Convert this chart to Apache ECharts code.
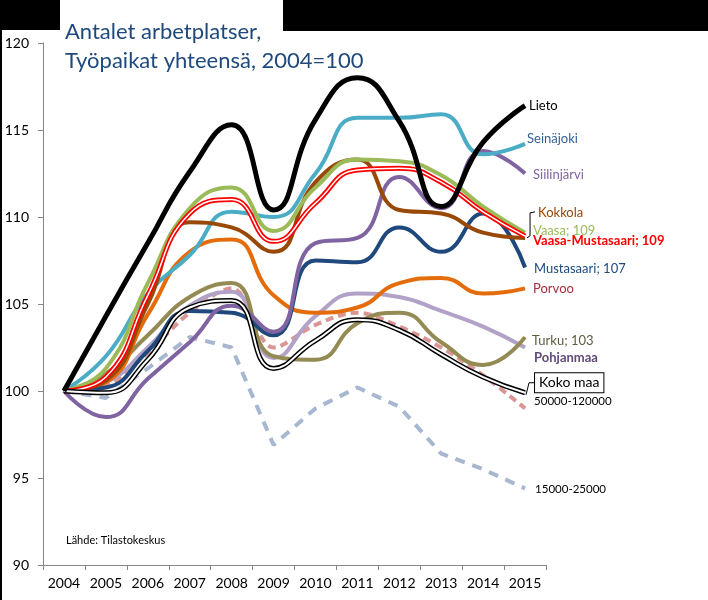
<!DOCTYPE html>
<html>
<head>
<meta charset="utf-8">
<script src="https://cdn.jsdelivr.net/npm/echarts@6/dist/echarts.min.js"></script>
<style>
html,body{margin:0;padding:0;background:#fff;}
#c{width:708px;height:600px;}
</style>
</head>
<body>
<div id="c"></div>
<script>
var years = ['2004','2005','2006','2007','2008','2009','2010','2011','2012','2013','2014','2015'];
var yTicks = [90, 95, 100, 105, 110, 115, 120];

var lieto       = [100, 104.3, 108.5, 112.6, 115.3, 110.4, 115.6, 118.0, 115.5, 110.6, 114.3, 116.4];
var seinajoki   = [100, 102.0, 105.6, 107.8, 110.3, 110.0, 112.5, 115.7, 115.7, 115.9, 113.6, 114.2];
var siilinjarvi = [100, 98.5, 100.7, 102.8, 104.9, 103.4, 108.5, 108.8, 112.3, 110.5, 113.8, 112.5];
var kokkola     = [100, 100.6, 105.0, 109.7, 109.4, 108.0, 112.0, 113.3, 110.4, 110.2, 109.1, 108.8];
var vaasa       = [100, 101.3, 106.2, 110.5, 111.7, 109.2, 111.7, 113.3, 113.2, 112.4, 110.6, 109.1];
var vaasaMust   = [100, 100.8, 105.5, 110.2, 111.0, 108.6, 110.8, 112.7, 112.8, 112.0, 110.3, 108.9];
var mustasaari  = [100, 100.2, 102.3, 104.6, 104.5, 103.2, 107.5, 107.4, 109.4, 108.0, 110.2, 107.1];
var porvoo      = [100, 100.5, 104.4, 108.0, 108.7, 105.5, 104.5, 104.8, 106.2, 106.5, 105.6, 105.9];
var turku       = [100, 101.0, 103.2, 105.4, 106.2, 102.0, 101.8, 103.9, 104.5, 102.8, 101.5, 103.1];
var pohjanmaa   = [100, 100.5, 102.5, 104.9, 105.7, 101.9, 104.3, 105.6, 105.4, 104.6, 103.7, 102.5];
var kokoMaa     = [100, 99.9, 101.8, 104.8, 105.2, 101.3, 102.9, 104.1, 103.5, 102.1, 100.8, 99.9];
var k50_120     = [100, 100.3, 102.2, 104.5, 105.9, 102.5, 103.8, 104.5, 103.7, 102.5, 100.9, 99.0];
var k15_25      = [100, 99.6, 101.3, 103.1, 102.5, 96.9, 99.0, 100.2, 99.1, 96.4, 95.5, 94.4];

var FONT = 'Lato';

function ln(name, data, color, width, label, extra) {
  var s = {
    name: name, type: 'line', data: data, smooth: 0.5, symbol: 'none',
    lineStyle: { color: color, width: width },
    emphasis: { disabled: true },
    z: 2
  };
  if (label) {
    s.endLabel = Object.assign({
      show: true, formatter: label.text, distance: 0,
      fontFamily: FONT, fontSize: 13, color: label.color || color,
      align: 'left', verticalAlign: 'middle'
    }, label.opts || {});
  }
  if (extra) Object.assign(s, extra);
  return s;
}

var series = [
  ln('15000-25000', k15_25, '#A7B7D0', 4, {text: '15000-25000', color: '#000', opts: {offset: [10, 1], fontSize: 11.5}}, {smooth: false, lineStyle: {color: '#A7B7D0', width: 4, type: [10, 8]}}),
  ln('50000-120000', k50_120, '#D99694', 4, {text: '50000-120000', color: '#000', opts: {offset: [9, -7], fontSize: 11.5}}, {smooth: 0.35, lineStyle: {color: '#D99694', width: 4, type: [8, 5]}}),
  ln('Pohjanmaa', pohjanmaa, '#B3A2C7', 4, {text: 'Pohjanmaa', color: '#604A7B', opts: {offset: [9, 10], fontWeight: 'bold'}}),
  ln('Turku', turku, '#948A54', 4, {text: 'Turku; 103', color: '#5E5A40', opts: {offset: [7, 4]}}),
  ln('Porvoo', porvoo, '#E46C0A', 4, {text: 'Porvoo', color: '#A5303E', opts: {offset: [8, 0]}}),
  ln('Mustasaari', mustasaari, '#1F497D', 4, {text: 'Mustasaari; 107', color: '#1F497D', opts: {offset: [9, 1]}}),
  ln('Siilinjärvi', siilinjarvi, '#8064A2', 4, {text: 'Siilinjärvi', color: '#8064A2', opts: {offset: [8, 1]}}),
  ln('Seinäjoki', seinajoki, '#4BACC6', 4, {text: 'Seinäjoki', color: '#31639A', opts: {offset: [2, -5]}}),
  ln('Kokkola', kokkola, '#984807', 4, {text: 'Kokkola', color: '#984807', opts: {offset: [13, -25]}}),
  ln('Vaasa', vaasa, '#9BBB59', 4, {text: 'Vaasa; 109', color: '#9BBB59', opts: {offset: [8, -2]}}),
  ln('Vaasa-Mustasaari', vaasaMust, '#FF0000', 5, {text: 'Vaasa-Mustasaari; 109', color: '#FF0000', opts: {offset: [8, 5], fontWeight: 'bold'}}),
  ln('Vaasa-Mustasaari-inner', vaasaMust, '#FFFFFF', 1.5, null),
  ln('Koko maa', kokoMaa, '#000000', 5, {text: 'Koko maa', color: '#000', opts: {offset: [10, -10], fontSize: 14, backgroundColor: '#fff', borderColor: '#000', borderWidth: 1, padding: [3, 4, 2, 4]}}),
  ln('Koko maa-inner', kokoMaa, '#FFFFFF', 2, null),
  ln('Lieto', lieto, '#000000', 5, {text: 'Lieto', color: '#000', opts: {offset: [4, 0]}})
];

var chart = echarts.init(document.getElementById('c'), null, {renderer: 'canvas'});
var option = {
  animation: false,
  backgroundColor: '#ffffff',
  grid: { left: 43, right: 162, top: 43, bottom: 35, containLabel: false },
  xAxis: {
    type: 'category', data: years, boundaryGap: true,
    axisLine: { lineStyle: { color: '#868686', width: 1 } },
    axisTick: { show: true, length: 5, lineStyle: { color: '#868686' } },
    axisLabel: { color: '#000', fontFamily: FONT, fontSize: 14, margin: 11, interval: 0 },
    splitLine: { show: false }
  },
  yAxis: {
    type: 'value', min: yTicks[0], max: yTicks[yTicks.length - 1], interval: 5,
    axisLine: { show: true, lineStyle: { color: '#868686', width: 1 } },
    axisTick: { show: true, length: 5, lineStyle: { color: '#868686' } },
    axisLabel: { color: '#000', fontFamily: FONT, fontSize: 14, margin: 14 },
    splitLine: { show: false }
  },
  title: {
    text: 'Antalet arbetplatser,\nTyöpaikat yhteensä, 2004=100',
    left: 60, top: 12,
    textStyle: { color: '#1F497D', fontFamily: FONT, fontSize: 22, fontWeight: 'normal', lineHeight: 29 }
  },
  series: series
};
chart.setOption(option);

// decorative frame and leader lines, positioned from the axes' own conversion
var last = years.length - 1;
function px(arr) { return chart.convertToPixel({xAxisIndex: 0, yAxisIndex: 0}, [last, arr[last]]); }
var pk = px(kokkola), pm = px(kokoMaa);
var g = [
  { type: 'rect', shape: {x: 0, y: 0, width: 60, height: 30}, style: {fill: '#000'}, z: 0 },
  { type: 'rect', shape: {x: 283, y: 0, width: 425, height: 31}, style: {fill: '#000'}, z: 0 },
  { type: 'rect', shape: {x: 0, y: 0, width: 2, height: 600}, style: {fill: '#000'}, z: 0 },
  { type: 'polyline', shape: {points: [[pk[0] + 2, pk[1]], [pk[0] + 5, pk[1] - 2], [pk[0] + 5, pk[1] - 25], [pk[0] + 10, pk[1] - 26]]}, style: {stroke: '#000', lineWidth: 1, fill: null}, z: 10 },
  { type: 'polyline', shape: {points: [[pm[0] + 1, pm[1] + 2], [pm[0] + 4, pm[1] - 10], [pm[0] + 10, pm[1] - 10]]}, style: {stroke: '#000', lineWidth: 1, fill: null}, z: 10 },
  { type: 'text', left: 66, top: 535, style: {text: 'Lähde: Tilastokeskus', fill: '#000', font: '11px ' + FONT}, z: 10 }
];
chart.setOption({ graphic: g });
</script>
</body>
</html>
